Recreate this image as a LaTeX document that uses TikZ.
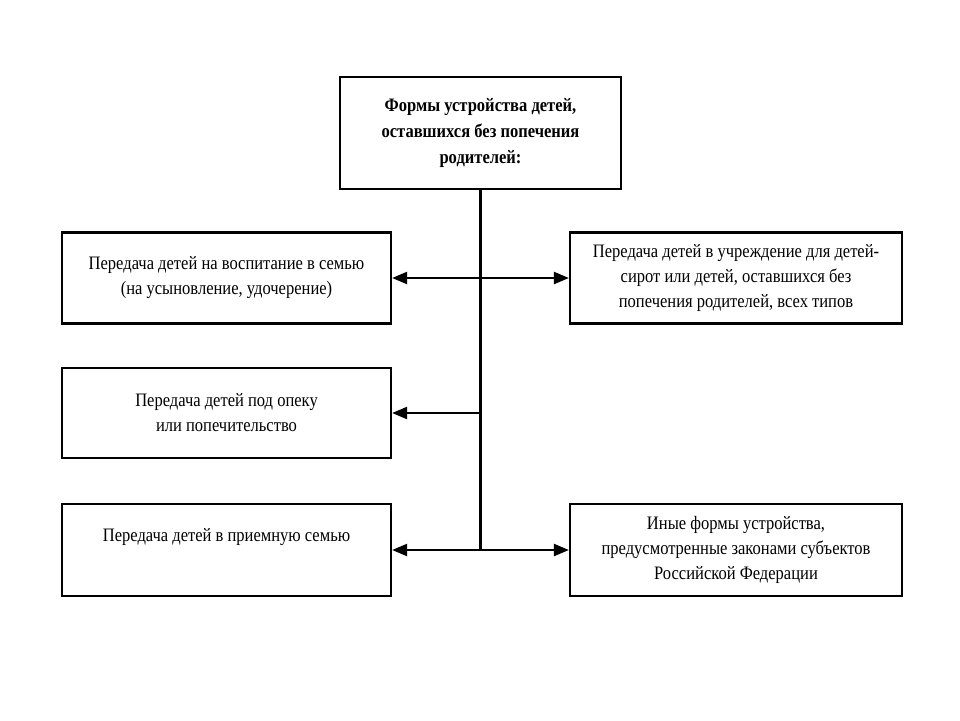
\documentclass[tikz,border=0pt]{standalone}
\usepackage{fontspec}
\setmainfont{Liberation Serif}[FakeStretch=0.87]
\usetikzlibrary{arrows.meta}
\tikzset{box/.style={draw,line width=2.2pt,align=center,inner sep=0pt,
        font=\fontsize{19}{25}\selectfont},
    link/.style={line width=2.2pt,{Triangle[length=15pt,width=12pt]}-{Triangle[length=15pt,width=12pt]}}}

\begin{document}
\begin{tikzpicture}[x=1pt,y=-1pt]
      \useasboundingbox[fill=white] (0,0) rectangle (960,720);
      \node[box,minimum width=281pt,minimum height=112pt,font=\fontsize{19}{26}\selectfont\bfseries] (top) at (480.5,133)
        {Формы устройства детей,\\оставшихся без попечения\\родителей:};
      \node[box,minimum width=329pt,minimum height=91pt] (fam) at (226.5,278)
        {Передача детей на воспитание в семью\\(на усыновление, удочерение)};
      \node[box,minimum width=332pt,minimum height=91pt] (inst) at (736,278)
        {Передача детей в учреждение для детей-\\сирот или детей, оставшихся без\\попечения родителей, всех типов};
      \node[box,minimum width=329pt,minimum height=90pt] (guard) at (226.5,413)
        {Передача детей под опеку\\или попечительство};
      \node[box,minimum width=329pt,minimum height=92pt,text depth=31pt] (foster) at (226.5,550)
        {Передача детей в приемную семью};
      \node[box,minimum width=332pt,minimum height=92pt] (other) at (736,550)
        {Иные формы устройства,\\предусмотренные законами субъектов\\Российской Федерации};
      % trunk and branches
      \draw[line width=2.2pt] (top.south) -- (top.south |- other.west);
      \draw[link] (fam.east) -- (inst.west);
      \draw[link,{Triangle[length=15pt,width=12pt]}-] (guard.east) -- (guard.east -| top.south);
      \draw[link] (foster.east) -- (other.west);
\end{tikzpicture}
\end{document}
